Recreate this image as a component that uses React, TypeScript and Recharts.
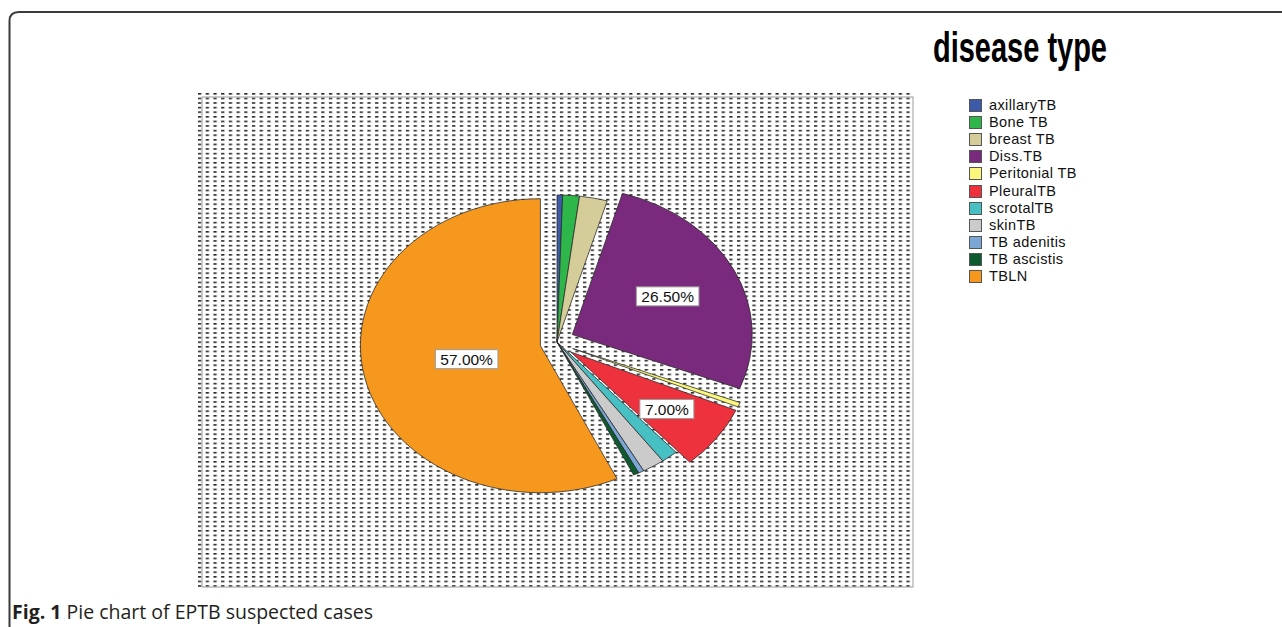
import * as React from "react";
import { PieChart, Pie, Cell, Sector, Legend } from "recharts";

// ----- Data (percent of EPTB suspected cases) -----
const diseaseTypes = [
  "axillaryTB",
  "Bone TB",
  "breast TB",
  "Diss.TB",
  "Peritonial TB",
  "PleuralTB",
  "scrotalTB",
  "skinTB",
  "TB adenitis",
  "TB ascistis",
  "TBLN",
];
const percents = [0.5, 1.5, 2.5, 26.5, 0.5, 7.0, 1.5, 2.0, 0.5, 0.5, 57.0];
const sliceColors = [
  "#3c5aa8",
  "#2fb64a",
  "#d4cd99",
  "#7a2a7c",
  "#faf77c",
  "#ee323d",
  "#47c0c4",
  "#cbcbcb",
  "#7ba6d6",
  "#0e5a2f",
  "#f7981e",
];
const chartTitle = "disease type";
const captionBold = "Fig. 1";
const captionText = " Pie chart of EPTB suspected cases";

const pieData = diseaseTypes.map((name, i) => ({ name, value: percents[i] }));

// ----- Look -----
const RAD = Math.PI / 180;
const SX = 1.2245; // pie is drawn as an ellipse, wider than tall
const EXPLODE = 17;
const exploded = new Set(["Diss.TB", "Peritonial TB", "PleuralTB", "TBLN"]);
const labelRadius: Record<string, number> = { TBLN: 0.42, "Diss.TB": 0.59, PleuralTB: 0.66 };

function explodeOffset(name: string, midAngle: number) {
  const off = exploded.has(name) ? EXPLODE : 0;
  return [off * Math.cos(-midAngle * RAD), off * Math.sin(-midAngle * RAD)];
}

function renderSector(p: any) {
  const name = p.name ?? p.payload?.name;
  const [dx, dy] = explodeOffset(name, p.midAngle);
  return (
    <g transform={`translate(${p.cx + dx} ${p.cy + dy}) scale(${SX} 1) translate(${-p.cx} ${-p.cy})`}>
      <Sector
        cx={p.cx}
        cy={p.cy}
        innerRadius={0}
        outerRadius={p.outerRadius}
        startAngle={p.startAngle}
        endAngle={p.endAngle}
        fill={p.fill}
        stroke="#2a2a2a"
        strokeWidth={0.7}
      />
    </g>
  );
}

function renderLabel(p: any) {
  const name = p.name ?? p.payload?.name;
  const f = labelRadius[name];
  if (!f) return null;
  const c = Math.cos(-p.midAngle * RAD);
  const s = Math.sin(-p.midAngle * RAD);
  const [dx, dy] = explodeOffset(name, p.midAngle);
  const x = p.cx + dx + f * p.outerRadius * SX * c;
  const y = p.cy + dy + f * p.outerRadius * s;
  const txt = `${(p.percent * 100).toFixed(2)}%`;
  const w = txt.length * 8.6 + 11;
  return (
    <g>
      <rect x={x - w / 2} y={y - 9.5} width={w} height={19} fill="#fff" stroke="#9a9a9a" strokeWidth={1} />
      <text x={x} y={y + 5.5} textAnchor="middle" fontSize={15.5} fontFamily="'Liberation Sans', Arial, sans-serif" fill="#111">
        {txt}
      </text>
    </g>
  );
}

function renderLegend(props: any) {
  const items = [...(props.payload || [])].sort(
    (a: any, b: any) => diseaseTypes.indexOf(a.value) - diseaseTypes.indexOf(b.value)
  );
  return (
    <div style={{ fontFamily: "'Liberation Sans', Arial, sans-serif", fontSize: 14.5, letterSpacing: 0.4, color: "#111" }}>
      {items.map((it: any) => (
        <div key={it.value} style={{ display: "flex", alignItems: "center", height: 17.1, lineHeight: "17px" }}>
          <span
            style={{
              display: "inline-block",
              width: 13,
              height: 13,
              background: it.color,
              border: "0.5px solid #555",
              marginRight: 7,
              boxSizing: "border-box",
            }}
          />
          <span>{it.value}</span>
        </div>
      ))}
    </div>
  );
}

export default function App() {
  return (
    <div style={{ position: "absolute", left: 0, top: 0, width: 1282, height: 627, background: "#fff", overflow: "hidden" }}>
      <svg width={1282} height={627} style={{ position: "absolute", left: 0, top: 0 }}>
        <defs>
          <pattern id="dots" x={198} y={93} width={7.7} height={4.6} patternUnits="userSpaceOnUse">
            <rect x={0} y={0} width={3.3} height={1.6} fill="#2a2a2a" />
          </pattern>
        </defs>
        <path d="M 9.5 627 V 21 Q 9.5 12 19 12 H 1282" fill="none" stroke="#3a3a3a" strokeWidth={2} />
        <rect x={198} y={93} width={715} height={494} fill="url(#dots)" />
        <rect x={202} y={97} width={711} height={490} fill="none" stroke="#9a9a9a" strokeWidth={1} />
        <text
          x={933}
          y={62}
          fontSize={42}
          fontWeight="bold"
          fontFamily="'Liberation Sans Narrow', 'Liberation Sans', Arial, sans-serif"
          textLength={174}
          lengthAdjust="spacingAndGlyphs"
          fill="#000"
        >
          {chartTitle}
        </text>
        <text x={12} y={619} fontSize={19.5} fontFamily="'Open Sans', sans-serif" fill="#231f20">
          <tspan fontWeight="bold">{captionBold}</tspan>
          <tspan>{captionText}</tspan>
        </text>
      </svg>
      <div style={{ position: "absolute", left: 0, top: 0 }}>
        <PieChart width={1282} height={627} margin={{ top: 0, right: 0, bottom: 0, left: 0 }}>
          <Pie
            data={pieData}
            dataKey="value"
            nameKey="name"
            cx={557}
            cy={342}
            innerRadius={0}
            outerRadius={147}
            startAngle={90}
            endAngle={-270}
            stroke="#2a2a2a"
            isAnimationActive={false}
            shape={renderSector}
            activeShape={renderSector}
            inactiveShape={renderSector}
            label={renderLabel}
            labelLine={false}
          >
            {pieData.map((d, i) => (
              <Cell key={d.name} fill={sliceColors[i]} />
            ))}
          </Pie>
          <Legend
            layout="vertical"
            align="right"
            verticalAlign="top"
            content={renderLegend}
            wrapperStyle={{ left: 969, top: 97, right: "auto", width: 200 }}
          />
        </PieChart>
      </div>
    </div>
  );
}
